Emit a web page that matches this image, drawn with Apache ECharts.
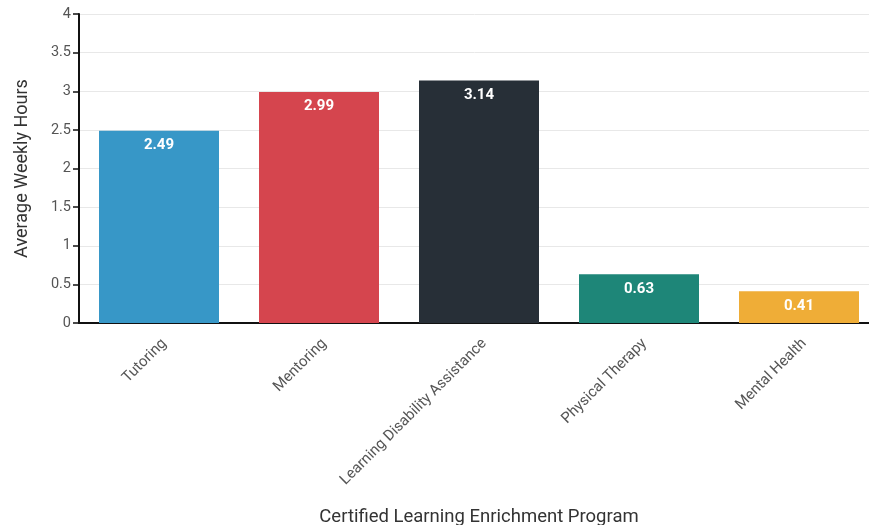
<!DOCTYPE html>
<html>
<head>
<meta charset="utf-8">
<script src="https://cdn.jsdelivr.net/npm/echarts@6/dist/echarts.min.js"></script>
<style>
  html, body { margin: 0; padding: 0; background: #fff; }
  #chart { width: 869px; height: 525px; }
</style>
</head>
<body>
<div id="chart"></div>
<script>
// Program categories and their average weekly hours
const programs = ['Tutoring', 'Mentoring', 'Learning Disability Assistance', 'Physical Therapy', 'Mental Health'];
const weeklyHours = [2.49, 2.99, 3.14, 0.63, 0.41];
const barColors = ['#3797c7', '#d5454e', '#272f37', '#1e8678', '#efad37'];
const yTicks = { min: 0, max: 4, interval: 0.5 };

const chart = echarts.init(document.getElementById('chart'));

chart.setOption({
  animation: false,
  textStyle: { fontFamily: 'Roboto' },
  grid: { left: 79, width: 800, top: 14, height: 309, containLabel: false, outerBoundsMode: 'none' },
  xAxis: {
    type: 'category',
    data: programs,
    name: 'Certified Learning Enrichment Program',
    nameLocation: 'middle',
    nameGap: 185,
    nameTextStyle: { fontSize: 18.5, color: '#333' },
    axisLine: { lineStyle: { color: '#111', width: 2 } },
    axisTick: { alignWithLabel: true, length: 7, lineStyle: { color: '#111', width: 2 } },
    axisLabel: { rotate: 45, fontSize: 15, color: '#555', margin: 13, interval: 0, verticalAlign: 'top' }
  },
  yAxis: {
    type: 'value',
    min: yTicks.min,
    max: yTicks.max,
    interval: yTicks.interval,
    name: 'Average Weekly Hours',
    nameLocation: 'middle',
    nameGap: 48,
    nameTextStyle: { fontSize: 18, color: '#333' },
    axisLine: { show: true, lineStyle: { color: '#111', width: 2 } },
    axisTick: { show: true, length: 6, lineStyle: { color: '#111', width: 1.5 } },
    axisLabel: { fontSize: 14.5, color: '#555', margin: 8 },
    splitLine: { lineStyle: { color: '#e8e8e8', width: 1 } }
  },
  series: [{
    type: 'bar',
    data: weeklyHours.map((v, i) => ({ value: v, itemStyle: { color: barColors[i] } })),
    barCategoryGap: '25%',
    label: {
      show: true,
      position: 'insideTop',
      distance: 7,
      color: '#fff',
      fontWeight: 'bold',
      fontSize: 15
    }
  }]
});
</script>
</body>
</html>
